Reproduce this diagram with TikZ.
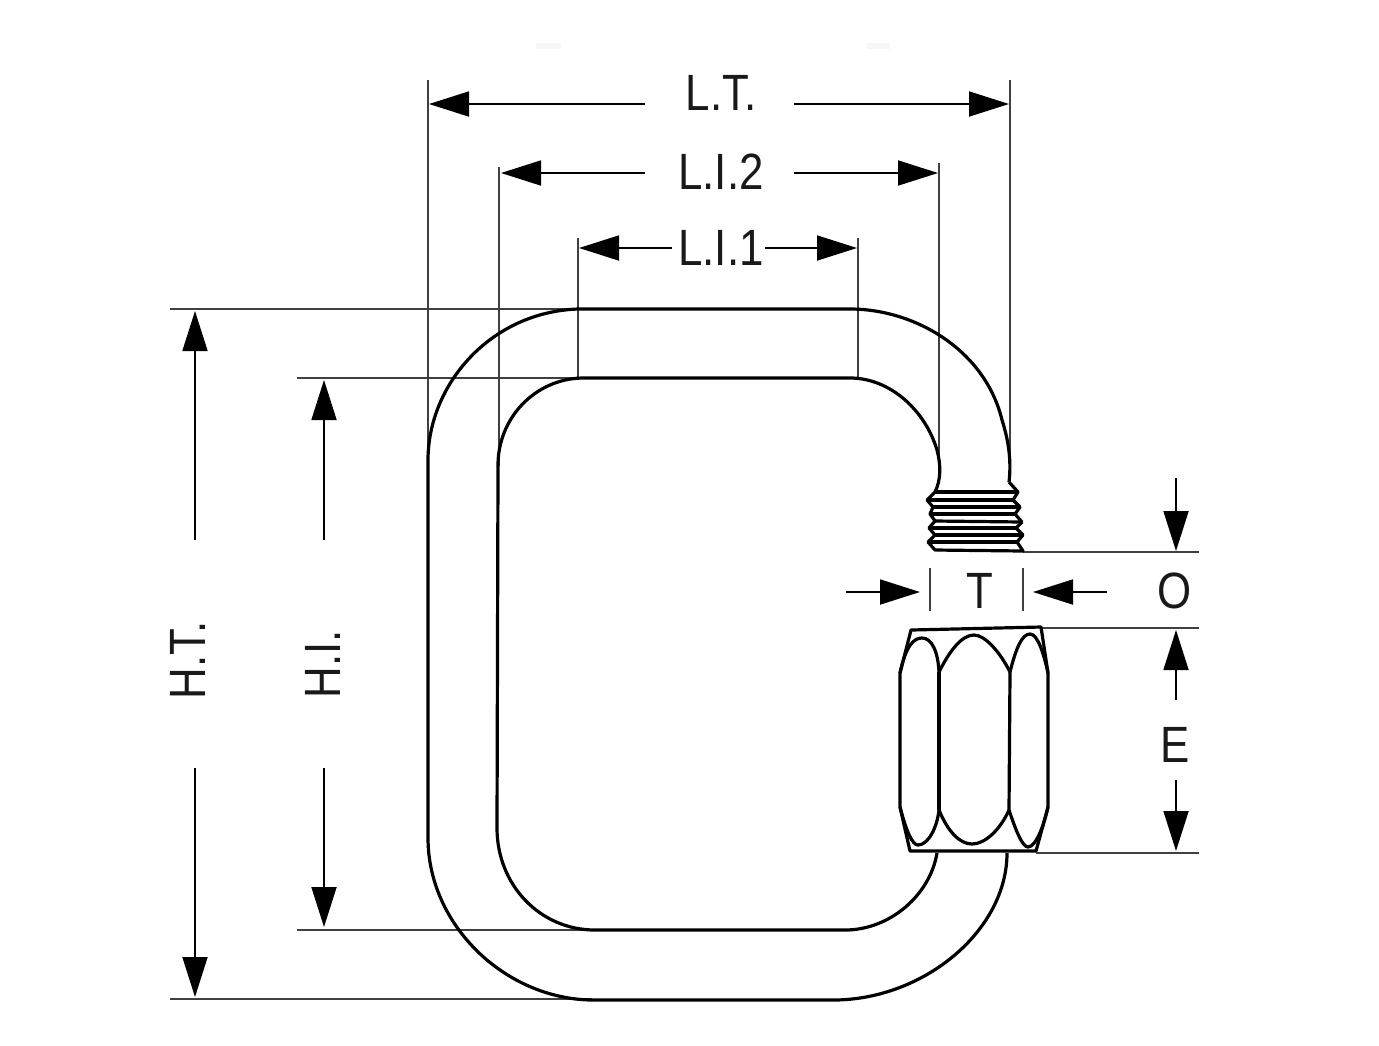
\documentclass[tikz,border=0pt]{standalone}
\usepackage{fontspec}
\setmainfont{Liberation Sans}
\usetikzlibrary{arrows.meta}
\newcommand{\lblbox}[1]{\scalebox{0.86}[1]{\fontsize{25.5}{25.5}\selectfont #1}}
\tikzset{
  body/.style={line width=1.6pt,black,line join=round},
  threadline/.style={line width=1.6pt,black,line join=round},
  thin2/.style={line width=0.6pt,black!75},
  dimline/.style={line width=0.9pt,black,-{Triangle[length=20pt,width=12.5pt]}},
  lbl/.style={inner sep=0pt,text=black!90},
  smudge/.style={fill=black!3,draw=none}
}
\begin{document}
\begin{tikzpicture}[x=0.5pt,y=-0.5pt]
\useasboundingbox (0,0) rectangle (1379,1045);
\fill[white] (0,0) rectangle (1379,1045);
\fill[smudge] (536,43) rectangle (561,49);
\fill[smudge] (867,43) rectangle (890,49);

% labels
\node[lbl] (lt) at (721,93) {\lblbox{L.T.}};
\node[lbl] (li2) at (721,172) {\lblbox{L.I.2}};
\node[lbl] (li1) at (721,248) {\lblbox{L.I.1}};
\node[lbl,rotate=90] (ht) at (188,660) {\lblbox{H.T.}};
\node[lbl,rotate=90] (hi) at (323,664) {\lblbox{H.I.}};
\node[lbl] (t) at (980,591) {\lblbox{T}};
\node[lbl] (o) at (1175,591) {\lblbox{O}};
\node[lbl] (e) at (1175,745) {\lblbox{E}};

% extension lines
\foreach \n/\xa/\ya/\xb/\yb in {
 a/428/80/428/460, b/1010/80/1010/472,
 c/499/167/499/466, d/939/163/939/462,
 f/578/238/578/379, g/858/238/858/379,
 h/170/309/580/309, i/297/378/582/378,
 j/297/930/592/930, k/170/999/592/999,
 l/1023/552/1199/552, m/1041/628/1199/628, n/1036/853/1199/853,
 p/930/568/930/611, q/1023/568/1023/611}{
  \coordinate (s\n) at (\xa,\ya);
  \coordinate (e\n) at (\xb,\yb);
  \draw[thin2] (s\n) -- (e\n);
}

% dimension arrows
\foreach \n/\xa/\ya/\xb/\yb in {
 a/645/104/429/104, b/794/104/1009/104,
 c/645/173/501/173, d/794/173/938/173,
 f/672/248/579/248, g/765/248/857/248,
 h/195/540/195/311, i/195/768/195/997,
 j/324/540/324/380, k/324/768/324/927,
 l/1176/478/1176/551, m/846/592/920/592, n/1107/592/1033/592,
 p/1176/700/1176/630, q/1176/780/1176/851}{
  \coordinate (as\n) at (\xa,\ya);
  \coordinate (ae\n) at (\xb,\yb);
  \draw[dimline] (as\n) -- (ae\n);
}

% link body
\draw[body] (1009,482) .. controls (1011,465) and (1010,445) .. (1002,420)
  .. controls (985,350) and (915,309) .. (850,309) -- (578,309)
  .. controls (490,312) and (428,385) .. (428,460) -- (428,838)
  .. controls (428,925) and (505,999) .. (592,1000) -- (835,1000)
  .. controls (925,999) and (1007,930) .. (1007,853);
\draw[body] (935,492) .. controls (941,480) and (941,465) .. (937,450)
  .. controls (925,410) and (890,378) .. (850,378) -- (582,378)
  .. controls (535,379) and (498,418) .. (498,465) -- (497,828)
  .. controls (497,885) and (540,930) .. (595,930) -- (845,930)
  .. controls (890,930) and (930,895) .. (937,853);

% thread
\draw[threadline]
 (935,492) -- (927,500) -- (933,507) -- (930,514) -- (935,521) -- (929,528) -- (935,535) -- (928,542) -- (935,550)
 -- (1023,551) -- (1017,542) -- (1023,535) -- (1016,528) -- (1022,522) -- (1015,514) -- (1020,507) -- (1013,500) -- (1018,492) -- (1009,482);
\foreach \xa/\ya/\xb/\yb in {935/492/1018/492, 927/500/1013/500, 933/507/1020/507, 930/514/1015/514,
  935/521/1022/522, 929/528/1016/528, 935/535/1023/535, 928/542/1017/542}
  \draw[threadline] (\xa,\ya) -- (\xb,\yb);

% nut
\draw[body,fill=white] (911,630) -- (1041,627) -- (1048,673) -- (1048,807) -- (1036,851) -- (910,851) -- (900,807) -- (900,673) -- cycle;
\draw[body] (939,672) -- (939,810);
\draw[body] (1010,672) -- (1009,810);
\draw[body] (900,673) .. controls (906,645) and (914,638) .. (922,638) .. controls (932,638) and (938,652) .. (939,672);
\draw[body] (939,672) .. controls (950,650) and (962,635) .. (974,635) .. controls (985,635) and (1000,652) .. (1010,672);
\draw[body] (1010,672) .. controls (1016,648) and (1022,634) .. (1030,634) .. controls (1038,634) and (1044,655) .. (1048,673);
\draw[body] (900,807) .. controls (906,830) and (912,845) .. (918,845) .. controls (928,845) and (937,828) .. (939,810);
\draw[body] (939,810) .. controls (948,832) and (960,844) .. (972,844) .. controls (985,844) and (1000,830) .. (1009,810);
\draw[body] (1009,810) .. controls (1015,828) and (1022,847) .. (1028,847) .. controls (1036,847) and (1044,825) .. (1048,807);
\end{tikzpicture}
\end{document}
